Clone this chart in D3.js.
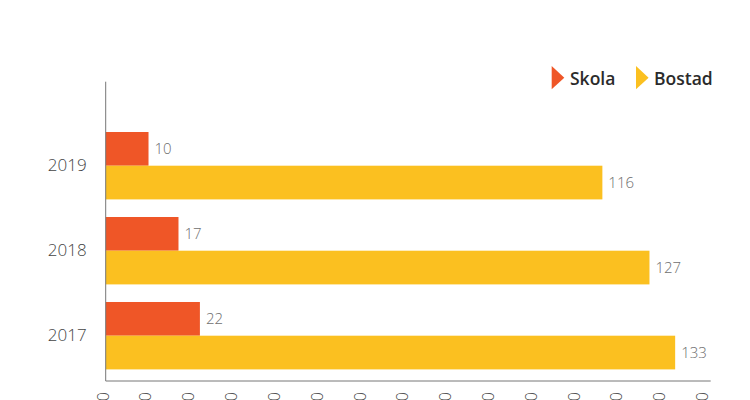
<!DOCTYPE html>
<html>
<head>
<meta charset="utf-8">
<script src="https://cdn.jsdelivr.net/npm/d3@7"></script>
<style>
  html, body { margin: 0; padding: 0; background: #fff; }
  svg { display: block; font-family: "Open Sans", sans-serif; }
</style>
</head>
<body>
<svg id="chart" width="750" height="400"></svg>
<script>
const years = ["2019", "2018", "2017"];
const seriesNames = ["Skola", "Bostad"];
const skola = [10, 17, 22];
const bostad = [116, 127, 133];
const xTicks = [0, 10, 20, 30, 40, 50, 60, 70, 80, 90, 100, 110, 120, 130, 140];
const titleText = "Antal ärenden: skola och bostad";

const colors = { Skola: "#EF5627", Bostad: "#FBC020" };

const svg = d3.select("#chart");
const W = 750, H = 400;
const plot = { left: 105.7, right: 710.7, top: 81.7, bottom: 381 };

const x = d3.scaleLinear().domain([0, 141.3]).range([plot.left, plot.right]);
const y = d3.scaleBand().domain(years).range([132, 369.4]).paddingInner(0.207).paddingOuter(0);
const ySub = d3.scaleBand().domain(seriesNames).range([0, y.bandwidth()]).padding(0);

const rows = years.map((yr, i) => ({ year: yr, Skola: skola[i], Bostad: bostad[i] }));

// title (cut off at top in reference)
svg.append("text")
  .attr("x", W / 2).attr("y", -0.5)
  .attr("text-anchor", "middle")
  .attr("font-size", 34).attr("font-weight", 600)
  .attr("fill", "#a0a0a0")
  .text(titleText);

// bars
const g = svg.append("g");
rows.forEach(r => {
  seriesNames.forEach(s => {
    g.append("rect")
      .attr("x", x(0))
      .attr("y", y(r.year) + ySub(s))
      .attr("width", x(r[s]) - x(0))
      .attr("height", ySub.bandwidth())
      .attr("fill", colors[s]);
    g.append("text")
      .attr("x", x(r[s]) + 6)
      .attr("y", y(r.year) + ySub(s) + ySub.bandwidth() / 2)
      .attr("dy", "0.35em")
      .attr("font-size", 15)
      .attr("font-weight", 300)
      .attr("fill", "#6e6e6e")
      .text(r[s]);
  });
});

// y axis
const yAxis = svg.append("g")
  .attr("transform", `translate(${plot.left},0)`)
  .call(d3.axisLeft(y).tickSize(0).tickPadding(19));
yAxis.select(".domain").remove();
yAxis.selectAll("text")
  .attr("font-size", 17)
  .attr("font-weight", 300)
  .attr("fill", "#444")
  .attr("font-family", "Open Sans, sans-serif");
svg.append("line")
  .attr("x1", plot.left).attr("x2", plot.left)
  .attr("y1", plot.top).attr("y2", plot.bottom)
  .attr("stroke", "#777").attr("stroke-width", 1);

// x axis
const xAxis = svg.append("g")
  .attr("transform", `translate(0,${plot.bottom})`)
  .call(d3.axisBottom(x).tickValues(xTicks).tickSize(0).tickSizeOuter(0));
xAxis.select(".domain").attr("stroke", "#777").attr("d", `M${plot.left},0H${plot.right}`);
xAxis.selectAll("text")
  .attr("transform", "rotate(-90)")
  .attr("text-anchor", "end")
  .attr("x", -11)
  .attr("y", 0)
  .attr("dy", "0.15em")
  .attr("font-size", 16)
  .attr("font-weight", 300)
  .attr("fill", "#444")
  .attr("font-family", "Open Sans, sans-serif");

// legend
const legend = svg.append("g");
const legendItems = [
  { name: "Skola", tx: 551.7, lx: 570 },
  { name: "Bostad", tx: 636, lx: 654 }
];
legendItems.forEach(it => {
  legend.append("path")
    .attr("d", `M${it.tx},66L${it.tx + 12.6},77.7L${it.tx},89.3Z`)
    .attr("fill", colors[it.name]);
  legend.append("text")
    .attr("x", it.lx).attr("y", 84.5)
    .attr("font-size", 17.5).attr("font-weight", 600)
    .attr("fill", "#2b2b2b")
    .text(it.name);
});
</script>
</body>
</html>
